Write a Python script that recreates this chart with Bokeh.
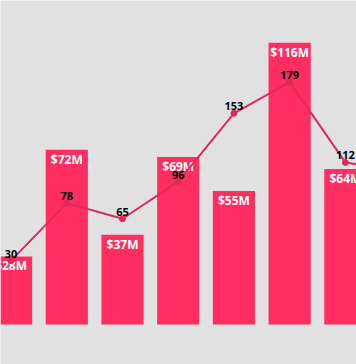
from bokeh.plotting import figure
from bokeh.models import Range1d, ColumnDataSource
from bokeh.core.properties import value
from bokeh.embed import file_html
from bokeh.resources import INLINE

# data
idx = [0, 1, 2, 3, 4, 5, 6, 7]
revenue = [28, 72, 37, 69, 55, 116, 64, 80]          # $M (bars)
revenue_labels = ["$%dM" % v for v in revenue]
counts = [30, 78, 65, 96, 153, 179, 112, 104]          # line values
count_labels = [str(v) for v in counts]

BG = "#e1e1e1"
BAR = "#ff2d60"
LINE = "#e0285c"

src = ColumnDataSource(dict(x=idx, rev=revenue, rl=revenue_labels, c=counts, cl=count_labels))

p = figure(width=356, height=364, output_backend="svg", toolbar_location=None,
           x_range=Range1d(-0.190, 6.200), y_range=Range1d(-16.47, 133.4),
           min_border=0, min_border_left=0, min_border_right=0,
           min_border_top=0, min_border_bottom=0)
p.extra_y_ranges = {"line": Range1d(-56.7, 247.2)}
p.background_fill_color = BG
p.border_fill_color = BG
p.outline_line_color = None
p.xaxis.visible = False
p.yaxis.visible = False
p.xgrid.visible = False
p.ygrid.visible = False

p.vbar(x="x", top="rev", bottom=0, width=0.757, source=src, fill_color=BAR, line_color=None)
p.text(x="x", y="rev", text="rl", source=src, text_color="white",
       text_font=value("Open Sans"), text_font_style="bold", text_font_size="12px",
       text_align="center", text_baseline="top", y_offset=1)

p.line(x="x", y="c", source=src, y_range_name="line", line_color=LINE, line_width=2)
p.scatter(x="x", y="c", source=src, y_range_name="line", size=6,
          fill_color=LINE, line_color=LINE)
p.text(x="x", y="c", text="cl", source=src, y_range_name="line", text_color="black",
       text_font=value("Open Sans"), text_font_style="bold", text_font_size="11px",
       text_align="center", text_baseline="alphabetic", y_offset=-7)

open("out.html", "w").write(file_html(p, INLINE))
